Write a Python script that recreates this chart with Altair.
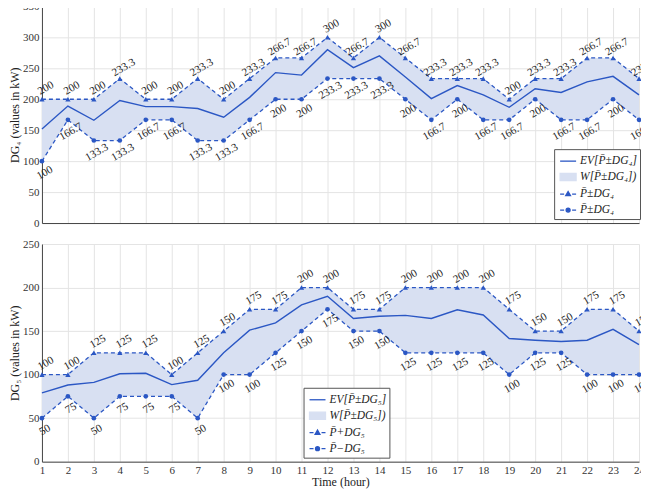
import altair as alt
import pandas as pd

hours = list(range(1, 25))

dg4_upper = [200, 200, 200, 233.3, 200, 200, 233.3, 200, 233.3, 266.7, 266.7, 300,
             266.7, 300, 266.7, 233.3, 233.3, 233.3, 200, 233.3, 233.3, 266.7, 266.7, 233.3]
dg4_lower = [100, 166.7, 133.3, 133.3, 166.7, 166.7, 133.3, 133.3, 166.7, 200, 200, 233.3,
             233.3, 233.3, 200, 166.7, 200, 166.7, 166.7, 200, 166.7, 166.7, 200, 166.7]
dg4_ev = [152, 189, 166, 198, 188, 188, 185, 171, 203, 243, 239, 280,
          251, 270, 236, 201, 222, 207, 187, 217, 211, 228, 237, 207]

dg5_upper = [100, 100, 125, 125, 125, 100, 125, 150, 175, 175, 200, 200,
             175, 175, 200, 200, 200, 200, 175, 150, 150, 175, 175, 150]
dg5_lower = [50, 75, 50, 75, 75, 75, 50, 100, 100, 125, 150, 175,
             150, 150, 125, 125, 125, 125, 100, 125, 125, 100, 100, 100]
dg5_ev = [79, 88, 91, 101, 101.5, 88.5, 93.5, 125, 151, 159.5, 180, 190,
          164.5, 167, 168, 164.5, 174.5, 168.5, 141.5, 139.5, 138, 139.5, 152, 134.5]

legend4 = ["EV[P̄±DG₄]", "W[P̄±DG₄])", "P̄±DG₄", "P̄±DG₄ "]
legend5 = ["EV[P̄±DG₅]", "W[P̄±DG₅])", "P̄+DG₅", "P̄−DG₅"]

BLUE = "#2b57c4"
BAND = "#d8e0f2"
FONT = "Liberation Serif"

SYM_LINE = "M-1,0H1"
SYM_RECT = "M-1,-0.45H1V0.45H-1Z"
SYM_TRI = "M-1,0H-0.5M0.5,0H1M0,-0.32L0.3,0.2L-0.3,0.2Z"
SYM_CIRC = "M-1,0H-0.5M0.5,0H1M0.25,0A0.25,0.25 0 1,1 -0.25,0A0.25,0.25 0 1,1 0.25,0Z"


def panel(ev, up, lo, ytitle, ymax, show_x, labels, lx, ly, height, key):
    df = pd.DataFrame({
        "hour": hours, "ev": ev, "up": up, "lo": lo,
        "up_lbl": [f"{v:g}" for v in up], "lo_lbl": [f"{v:g}" for v in lo],
    })
    xscale = alt.Scale(domain=[1, 24], nice=False, zero=False)
    xaxis = alt.Axis(values=hours, labels=show_x, ticks=False, labelOverlap=False,
                     title="Time (hour)" if show_x else None,
                     labelPadding=3, titlePadding=1, labelFlush=False)
    yscale = alt.Scale(domain=[0, ymax], nice=False)
    yaxis = alt.Axis(values=list(range(0, ymax + 1, 50)), title=ytitle, ticks=False,
                     labelOverlap=False, labelPadding=3, titlePadding=1)
    x = alt.X("hour:Q", scale=xscale, axis=xaxis)

    def Y(f):
        return alt.Y(f, scale=yscale, axis=yaxis)

    base = alt.Chart(df)
    band = base.mark_area(color=BAND, opacity=1).encode(x=x, y=Y("lo:Q"), y2="up:Q")
    evl = base.mark_line(color=BLUE, strokeWidth=1.4).encode(x=x, y=Y("ev:Q"))
    upl = base.mark_line(color=BLUE, strokeWidth=1.3, strokeDash=[4, 3]).encode(x=x, y=Y("up:Q"))
    lol = base.mark_line(color=BLUE, strokeWidth=1.3, strokeDash=[4, 3]).encode(x=x, y=Y("lo:Q"))
    upp = base.mark_point(shape="triangle-up", filled=True, size=28, color=BLUE, opacity=1).encode(
        x=x, y=Y("up:Q"))
    lop = base.mark_point(shape="circle", filled=True, size=22, color=BLUE, opacity=1).encode(
        x=x, y=Y("lo:Q"))
    upt = base.mark_text(angle=330, align="center", baseline="middle", xOffset=4, yOffset=-11,
                         font=FONT, fontSize=11, color="#222").encode(
        x=x, y=Y("up:Q"), text="up_lbl:N")
    lot = base.mark_text(angle=330, align="center", baseline="middle", xOffset=3, yOffset=12,
                         font=FONT, fontSize=11, color="#222").encode(
        x=x, y=Y("lo:Q"), text="lo_lbl:N")

    ldf = pd.DataFrame({key: labels, "hour": [None] * 4, "v": [None] * 4})
    leg = alt.Legend(title=None, orient="none", legendX=lx, legendY=ly,
                     symbolSize=256, symbolStrokeWidth=1.3, labelFont=FONT,
                     labelFontSize=11.5, labelFontStyle="italic", labelColor="#222",
                     strokeColor="#555", fillColor="white", padding=3, rowPadding=1,
                     labelOffset=3, symbolOffset=2)
    dummy = alt.Chart(ldf).mark_point(filled=True, opacity=1).encode(
        x=x, y=Y("v:Q"),
        shape=alt.Shape(f"{key}:N", scale=alt.Scale(domain=labels,
                        range=[SYM_LINE, SYM_RECT, SYM_TRI, SYM_CIRC]), legend=leg),
        fill=alt.Fill(f"{key}:N", scale=alt.Scale(domain=labels,
                      range=[BLUE, BAND, BLUE, BLUE]), legend=leg),
        stroke=alt.Stroke(f"{key}:N", scale=alt.Scale(domain=labels,
                          range=[BLUE, BAND, BLUE, BLUE]), legend=leg),
    )
    return alt.layer(band, evl, upl, lol, upp, lop, upt, lot, dummy).properties(
        width=598, height=height)


top = panel(dg4_ev, dg4_upper, dg4_lower, "DG₄ (values in kW)", 350, False,
            legend4, 513, 143, 217, "s4")
bottom = panel(dg5_ev, dg5_upper, dg5_lower, "DG₅ (values in kW)", 250, True,
               legend5, 262, 144, 218, "s5")

chart = alt.vconcat(top, bottom, spacing=10).resolve_scale(
    shape="independent", fill="independent", stroke="independent"
).properties(
    padding={"top": -8, "left": 0, "right": -16, "bottom": 1}
).configure_view(stroke=None).configure_axis(
    labelFont=FONT, titleFont=FONT, labelFontSize=11, titleFontSize=12,
    titleFontWeight="normal", labelColor="#333", titleColor="#222",
    gridColor="#e4e4e4", domainColor="#444", domainWidth=1
)

chart.save("out.html", embed_options={"renderer": "svg", "actions": False})
